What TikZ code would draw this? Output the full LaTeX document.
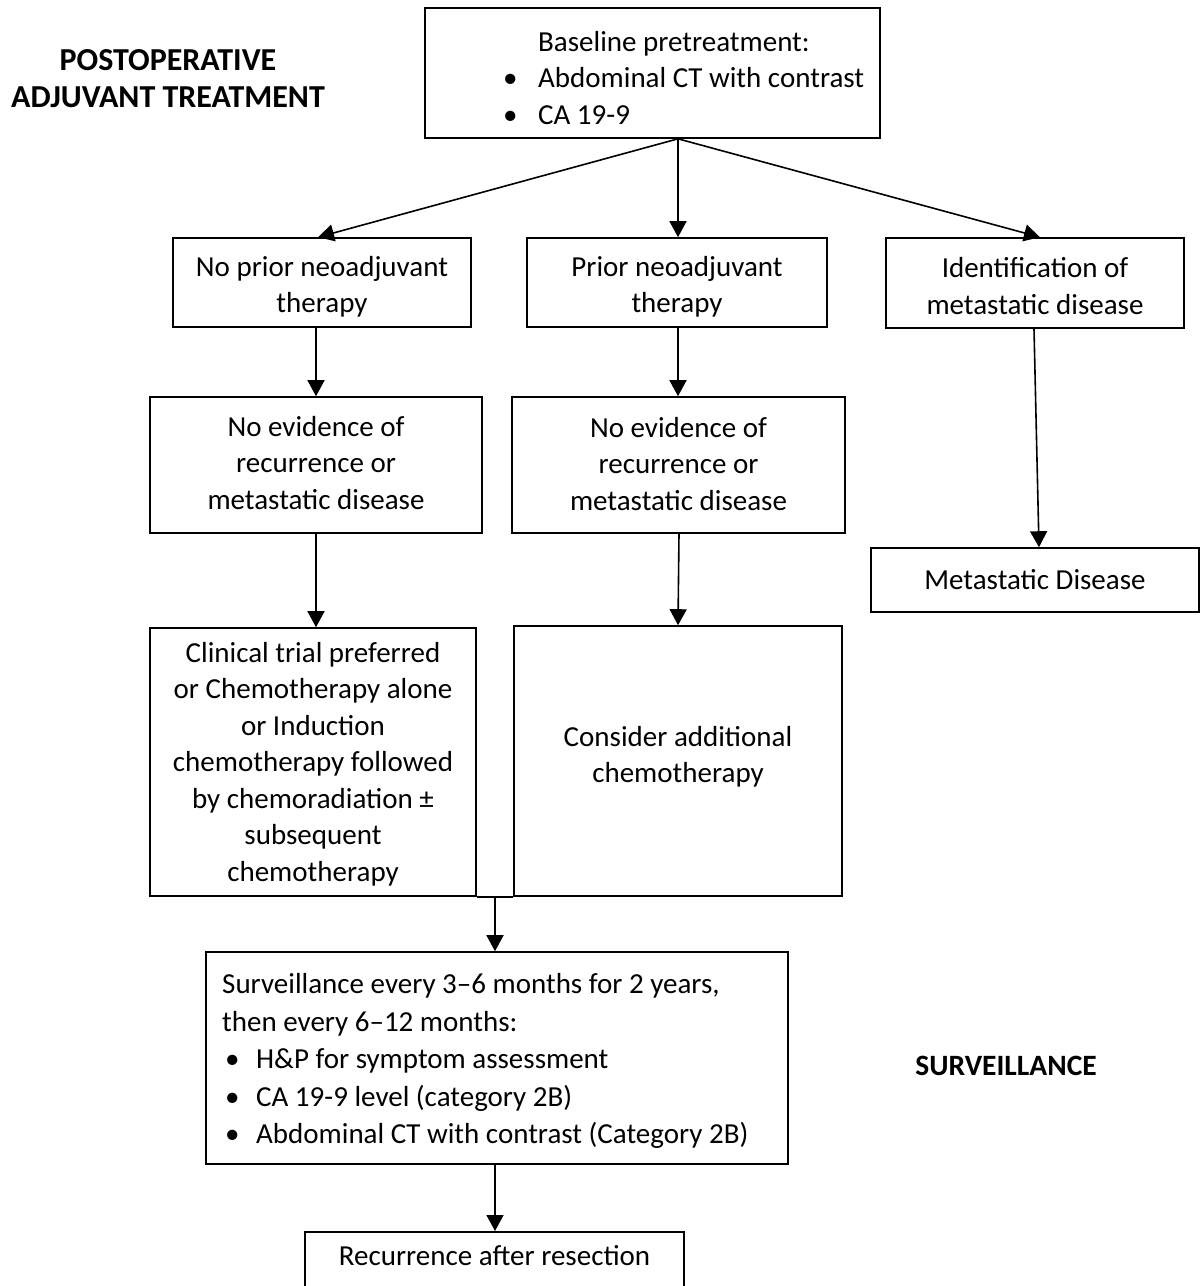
\documentclass[tikz,border=0pt]{standalone}
\usepackage{fontspec}
\setmainfont{Carlito}
\usetikzlibrary{arrows.meta,calc}
\newcommand{\mainsz}{\fontsize{29pt}{36.5pt}\selectfont}
\newcommand{\ttlsz}{\fontsize{32pt}{37pt}\selectfont}
\begin{document}
\begin{tikzpicture}[x=1pt,y=-1pt,
  frame/.style={draw, line width=1.6pt, inner sep=0pt},
  box/.style={draw, line width=1.6pt, inner sep=0pt, align=center, font=\mainsz},
  ctxt/.style={inner sep=0pt, align=center, font=\mainsz},
  txt/.style={inner sep=0pt, align=left, font=\mainsz},
  arr/.style={line width=1.6pt, -{Triangle[length=16pt,width=17pt]}}]
\useasboundingbox[fill=white] (0,0) rectangle (1201,1286);

% titles
\node[inner sep=0pt, align=center, font=\ttlsz\bfseries] (t1) at (168,79) {POSTOPERATIVE\\ADJUVANT TREATMENT};
\node[inner sep=0pt, font=\fontsize{29.5pt}{36pt}\selectfont\bfseries] (t2) at (1006,1066) {SURVEILLANCE};

% top box
\node[frame, minimum width=455pt, minimum height=130pt] (top) at (652.5,73) {};
\node[txt, anchor=west] (toptxt) at (538,78) {Baseline pretreatment:\\
\llap{\makebox[35pt][l]{•}}Abdominal CT with contrast\\
\llap{\makebox[35pt][l]{•}}CA 19-9};

% second row
\node[frame, minimum width=298pt, minimum height=89pt] (A) at (322,282.5) {};
\node[ctxt] (At) at (322,287) {No prior neoadjuvant\\therapy};
\node[frame, minimum width=300pt, minimum height=89pt] (B) at (677,282.5) {};
\node[ctxt] (Bt) at (677,287) {Prior neoadjuvant\\therapy};
\node[frame, minimum width=298pt, minimum height=90pt] (C) at (1035,283) {};
\node[ctxt] (Ct) at (1035,286) {Identification of\\metastatic disease};

% third row
\node[frame, minimum width=332pt, minimum height=136pt] (D) at (316,465) {};
\node[ctxt] (Dt) at (316,463) {No evidence of\\recurrence or\\metastatic disease};
\node[frame, minimum width=333pt, minimum height=136pt] (E) at (678.5,465) {};
\node[ctxt] (Et) at (678.5,464) {No evidence of\\recurrence or\\metastatic disease};
\node[box, minimum width=328pt, minimum height=64pt] (F) at (1035,580) {Metastatic Disease};

% fourth row
\node[frame, minimum width=326pt, minimum height=268pt] (G) at (313,762) {};
\node[ctxt] (Gt) at (313,764) {Clinical trial preferred\\or Chemotherapy alone\\or Induction\\chemotherapy followed\\by chemoradiation ±\\subsequent\\chemotherapy};
\node[frame, minimum width=328pt, minimum height=270pt] (H) at (678,761) {};
\node[ctxt] (Ht) at (678,757) {Consider additional\\chemotherapy};

% surveillance
\node[frame, minimum width=582pt, minimum height=212pt] (I) at (497,1058) {};
\node[txt, anchor=west, font=\fontsize{29pt}{37.5pt}\selectfont] (It) at (222,1061) {Surveillance every 3–6 months for 2 years,\\
then every 6–12 months:\\
\makebox[34pt][l]{\hspace*{3pt}•}H\&P for symptom assessment\\
\makebox[34pt][l]{\hspace*{3pt}•}CA 19-9 level (category 2B)\\
\makebox[34pt][l]{\hspace*{3pt}•}Abdominal CT with contrast (Category 2B)};

% recurrence
\node[frame, minimum width=379pt, minimum height=80pt, anchor=north] (J) at (494.5,1231) {};
\node[ctxt] (Jt) at (494.5,1256) {Recurrence after resection};

% connectors
\coordinate (s) at ($(top.south)+(25.5,0)$);
\draw[arr] (s) -- ($(A.north)+(-4,0)$);
\draw[arr] (s) -- (s |- B.north);
\draw[arr] (s) -- ($(C.north)+(5,0)$);
\draw[arr] (A.south -| D.north) -- (D.north);
\draw[arr] (B.south -| s) -- (s |- E.north);
\draw[arr] ($(C.south)+(-1,0)$) -- ($(F.north)+(4,0)$);
\draw[arr] (D.south) -- (D.south |- G.north);
\draw[arr] ($(E.south)+(0.5,0)$) -- (H.north);
\draw[line width=1.6pt] (G.south east) -- (H.south west);
\coordinate (j) at ($(G.south east)!0.5!(H.south west)$);
\draw[arr] (j) -- (j |- I.north);
\draw[arr] (I.south -| j) -- (j |- J.north);
\end{tikzpicture}
\end{document}
